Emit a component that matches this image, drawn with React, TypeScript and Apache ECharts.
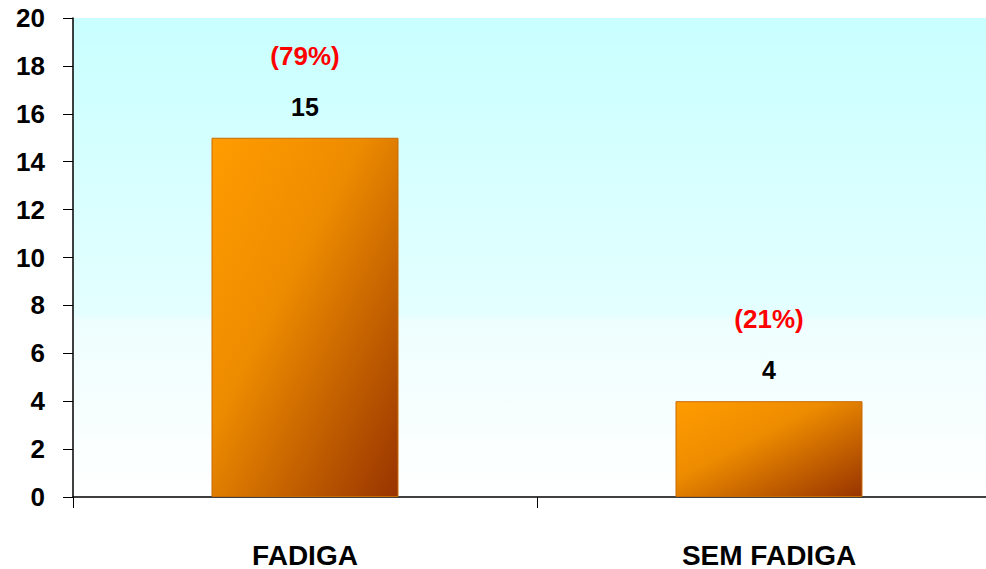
import React, { useEffect, useRef } from "react";
import * as echarts from "echarts";

const categories = ["FADIGA", "SEM FADIGA"];
const values = [15, 4];
const percents = ["(79%)", "(21%)"];
const yTicks = { min: 0, max: 20, interval: 2 };

export default function App() {
  const ref = useRef<HTMLDivElement>(null);
  useEffect(() => {
    if (!ref.current) return;
    const chart = echarts.init(ref.current, null, { renderer: "svg" });
    const font = "'Liberation Sans', Arial, sans-serif";
    chart.setOption({
      animation: false,
      backgroundColor: "#ffffff",
      grid: {
        show: true,
        left: 73,
        top: 18,
        bottom: 71,
        right: 0,
        borderWidth: 0,
        backgroundColor: {
          type: "linear",
          x: 0,
          y: 0,
          x2: 0,
          y2: 1,
          colorStops: [
            { offset: 0, color: "#c9ffff" },
            { offset: 0.62, color: "#e4ffff" },
            { offset: 0.63, color: "#eefefe" },
            { offset: 1, color: "#ffffff" },
          ],
        },
      },
      xAxis: {
        type: "category",
        data: categories,
        axisLine: { lineStyle: { color: "#000", width: 1.5 } },
        axisTick: { show: true, length: 11, lineStyle: { color: "#000", width: 1 } },
        axisLabel: {
          margin: 44,
          color: "#000",
          fontFamily: font,
          fontWeight: "bold",
          fontSize: 28,
        },
      },
      yAxis: {
        type: "value",
        min: yTicks.min,
        max: yTicks.max,
        interval: yTicks.interval,
        splitLine: { show: false },
        axisLine: { show: true, lineStyle: { color: "#000", width: 1.5 } },
        axisTick: { show: true, length: 10, lineStyle: { color: "#000", width: 1 } },
        axisLabel: {
          margin: 28,
          color: "#000",
          fontFamily: font,
          fontWeight: "bold",
          fontSize: 26,
        },
      },
      series: [
        {
          type: "bar",
          data: values,
          barWidth: "40.3%",
          itemStyle: {
            borderColor: "#c86a00",
            borderWidth: 1,
            color: {
              type: "linear",
              x: 0,
              y: 0,
              x2: 1,
              y2: 1,
              colorStops: [
                { offset: 0, color: "#ff9c00" },
                { offset: 0.4, color: "#ee8c00" },
                { offset: 1, color: "#983400" },
              ],
            },
          },
          label: {
            show: true,
            position: "top",
            distance: 16,
            formatter: (p: any) => `{p|${percents[p.dataIndex]}}\n{v|${p.value}}`,
            rich: {
              p: {
                color: "#ff0000",
                fontFamily: font,
                fontWeight: "bold",
                fontSize: 26,
                lineHeight: 72,
              },
              v: {
                color: "#000",
                fontFamily: font,
                fontWeight: "bold",
                fontSize: 25,
                lineHeight: 30,
              },
            },
          },
        },
      ],
    });
    return () => chart.dispose();
  }, []);
  return (
    <div
      style={{
        position: "fixed",
        left: 0,
        top: 0,
        width: 986,
        height: 569,
        overflow: "hidden",
      }}
    >
      <div ref={ref} style={{ width: 1001, height: 569 }} />
    </div>
  );
}
